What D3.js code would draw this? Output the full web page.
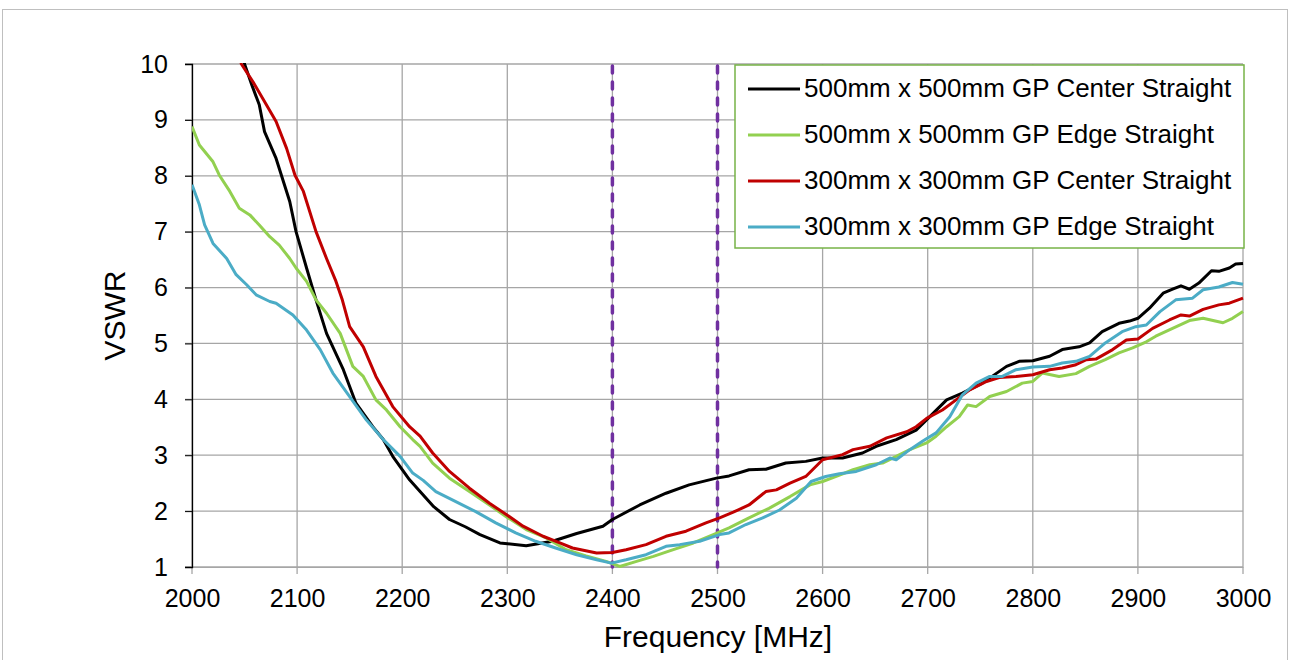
<!DOCTYPE html>
<html><head><meta charset="utf-8">
<script src="https://cdn.jsdelivr.net/npm/d3@7"></script>
<style>body{margin:0;background:#fff;font-family:"Liberation Sans",Arial,sans-serif}</style>
</head><body>
<svg id="c" width="1290" height="660"></svg>
<script>
const seriesNames = ["500mm x 500mm GP Center Straight","500mm x 500mm GP Edge Straight","300mm x 300mm GP Center Straight","300mm x 300mm GP Edge Straight"];
const seriesColors = ["#000000","#92d050","#c00000","#4bacc6"];
const xTicks = [2000,2100,2200,2300,2400,2500,2600,2700,2800,2900,3000];
const yTicks = [1,2,3,4,5,6,7,8,9,10];
const bandEdges = [2400,2500];

const black = [[2045,10.6],[2050,10],[2057,9.62],[2064,9.27],[2069,8.79],[2080,8.31],[2093,7.54],[2099,7.0],[2109,6.35],[2118,5.78],[2128,5.18],[2144,4.53],[2156,3.93],[2172,3.51],[2182,3.28],[2191,2.98],[2207,2.56],[2217,2.35],[2230,2.08],[2245,1.85],[2260,1.72],[2274,1.58],[2293,1.43],[2318,1.38],[2343,1.46],[2366,1.60],[2391,1.73],[2400,1.85],[2426,2.11],[2451,2.32],[2473,2.47],[2499,2.59],[2511,2.63],[2530,2.74],[2546,2.75],[2565,2.86],[2584,2.89],[2600,2.95],[2619,2.95],[2638,3.04],[2651,3.16],[2670,3.28],[2689,3.45],[2702,3.69],[2718,3.99],[2733,4.11],[2752,4.29],[2775,4.59],[2787,4.68],[2800,4.69],[2816,4.77],[2828,4.89],[2844,4.94],[2854,5.01],[2866,5.21],[2882,5.36],[2892,5.40],[2900,5.45],[2911,5.63],[2924,5.90],[2933,5.97],[2941,6.03],[2949,5.97],[2958,6.08],[2970,6.30],[2977,6.29],[2987,6.35],[2993,6.42],[3000,6.43]];
const green = [[2000,8.88],[2007,8.55],[2020,8.25],[2026,8.01],[2036,7.72],[2045,7.42],[2055,7.30],[2064,7.12],[2074,6.91],[2083,6.76],[2093,6.52],[2099,6.35],[2109,6.11],[2118,5.78],[2128,5.54],[2141,5.18],[2153,4.59],[2163,4.41],[2175,3.99],[2185,3.81],[2198,3.51],[2210,3.28],[2217,3.16],[2229,2.86],[2245,2.59],[2264,2.35],[2283,2.11],[2299,1.90],[2318,1.67],[2337,1.52],[2356,1.31],[2375,1.20],[2394,1.10],[2407,1.01],[2423,1.10],[2439,1.19],[2458,1.31],[2477,1.43],[2496,1.58],[2511,1.70],[2530,1.88],[2549,2.05],[2569,2.26],[2588,2.47],[2600,2.53],[2613,2.62],[2629,2.74],[2645,2.83],[2657,2.86],[2670,2.98],[2683,3.10],[2699,3.22],[2708,3.34],[2718,3.51],[2730,3.69],[2738,3.90],[2746,3.87],[2759,4.05],[2775,4.14],[2790,4.29],[2800,4.32],[2809,4.47],[2825,4.41],[2841,4.46],[2854,4.59],[2869,4.71],[2882,4.83],[2895,4.92],[2908,5.03],[2917,5.13],[2933,5.27],[2949,5.41],[2962,5.45],[2981,5.37],[2990,5.45],[3000,5.57]];
const red = [[2040,10.5],[2047,10],[2058,9.68],[2068,9.36],[2080,8.97],[2090,8.49],[2098,8.01],[2106,7.72],[2118,7.0],[2128,6.52],[2137,6.11],[2143,5.78],[2150,5.30],[2163,4.94],[2175,4.41],[2191,3.87],[2207,3.51],[2217,3.34],[2229,3.04],[2245,2.71],[2264,2.41],[2283,2.14],[2299,1.94],[2315,1.73],[2334,1.55],[2350,1.43],[2362,1.34],[2385,1.25],[2400,1.26],[2413,1.31],[2432,1.40],[2451,1.55],[2470,1.64],[2489,1.79],[2502,1.88],[2515,1.98],[2530,2.11],[2546,2.35],[2556,2.38],[2569,2.50],[2584,2.62],[2600,2.92],[2619,3.01],[2629,3.10],[2645,3.16],[2661,3.31],[2680,3.42],[2689,3.51],[2699,3.66],[2714,3.81],[2727,3.99],[2740,4.17],[2756,4.32],[2768,4.39],[2784,4.41],[2800,4.44],[2816,4.53],[2828,4.56],[2841,4.62],[2851,4.71],[2860,4.72],[2876,4.89],[2889,5.06],[2900,5.08],[2914,5.27],[2930,5.42],[2941,5.51],[2949,5.49],[2962,5.61],[2977,5.69],[2987,5.72],[3000,5.81]];
const blue = [[2000,7.84],[2007,7.48],[2012,7.12],[2020,6.79],[2033,6.52],[2042,6.23],[2052,6.05],[2061,5.87],[2074,5.75],[2080,5.72],[2096,5.51],[2109,5.24],[2122,4.89],[2134,4.47],[2150,4.05],[2166,3.63],[2182,3.28],[2198,2.98],[2210,2.68],[2220,2.55],[2232,2.35],[2251,2.17],[2270,1.99],[2289,1.79],[2308,1.61],[2327,1.46],[2346,1.34],[2366,1.22],[2385,1.13],[2399,1.07],[2413,1.13],[2432,1.22],[2451,1.37],[2464,1.40],[2483,1.46],[2502,1.58],[2511,1.61],[2527,1.76],[2543,1.88],[2559,2.02],[2575,2.23],[2589,2.53],[2603,2.62],[2616,2.67],[2632,2.71],[2651,2.83],[2664,2.95],[2670,2.92],[2683,3.10],[2695,3.25],[2708,3.40],[2721,3.69],[2733,4.08],[2746,4.29],[2759,4.41],[2771,4.41],[2784,4.53],[2800,4.58],[2816,4.59],[2828,4.65],[2841,4.68],[2854,4.77],[2869,5.01],[2885,5.21],[2898,5.30],[2908,5.33],[2921,5.57],[2936,5.78],[2952,5.81],[2962,5.96],[2977,6.01],[2990,6.09],[3000,6.06]];
const seriesData = [black, green, red, blue];

const svg = d3.select("#c");
const L = 192, R = 1243, T = 64, B = 567;
const FONT = "Liberation Sans, Arial, sans-serif";
const x = d3.scaleLinear().domain([2000,3000]).range([L,R]);
const y = d3.scaleLinear().domain([1,10]).range([B,T]);

// outer frame
svg.append("rect").attr("x",2.5).attr("y",9.5).attr("width",1285).attr("height",660).attr("fill","none").attr("stroke","#bfbfbf").attr("stroke-width",1);

// grid
const g = svg.append("g");
g.selectAll(".gx").data(xTicks).join("line").attr("x1",d=>x(d)).attr("x2",d=>x(d)).attr("y1",T).attr("y2",B+7).attr("stroke","#a6a6a6").attr("stroke-width",1.3);
g.selectAll(".gy").data(yTicks).join("line").attr("x1",L-7).attr("x2",R).attr("y1",d=>y(d)).attr("y2",d=>y(d)).attr("stroke","#a6a6a6").attr("stroke-width",1.3);

// axes via d3
const xAxis = svg.append("g").attr("transform",`translate(0,${B})`).call(d3.axisBottom(x).tickValues(xTicks).tickSize(0).tickPadding(22).tickFormat(d3.format("d")));
xAxis.select(".domain").attr("stroke","#a6a6a6");
xAxis.selectAll("text").attr("font-size",25).attr("font-family",FONT).attr("fill","#000");
const yAxis = svg.append("g").attr("transform",`translate(${L},0)`).call(d3.axisLeft(y).tickValues(yTicks).tickSize(7).tickPadding(17).tickFormat(d3.format("d")));
yAxis.select(".domain").attr("stroke","#000").attr("stroke-width",1.3);
yAxis.selectAll(".tick line").attr("stroke","#000");
yAxis.selectAll("text").attr("font-size",25).attr("font-family",FONT).attr("fill","#000");

// band lines
svg.selectAll(".band").data(bandEdges).join("line").attr("x1",d=>x(d)).attr("x2",d=>x(d)).attr("y1",T+2).attr("y2",B)
  .attr("stroke","#7030a0").attr("stroke-width",3.5).attr("stroke-linecap","round").attr("stroke-dasharray","7,9");

// clip
svg.append("clipPath").attr("id","clip").append("rect").attr("x",L).attr("y",T-1).attr("width",R-L+3).attr("height",B-T+2);
const line = d3.line().x(d=>x(d[0])).y(d=>y(d[1]));
svg.append("g").attr("clip-path","url(#clip)").selectAll("path").data(seriesData).join("path")
  .attr("d",line).attr("fill","none").attr("stroke",(d,i)=>seriesColors[i]).attr("stroke-width",3).attr("stroke-linejoin","round");

// axis titles
svg.append("text").attr("x",718).attr("y",647).attr("text-anchor","middle").attr("font-size",30).attr("font-family",FONT).attr("fill","#000").text("Frequency [MHz]");
svg.append("text").attr("transform",`translate(125,${(T+B)/2}) rotate(-90)`).attr("text-anchor","middle").attr("font-size",30).attr("font-family",FONT).attr("fill","#000").text("VSWR");

// legend
const lg = svg.append("g");
lg.append("rect").attr("x",735).attr("y",65).attr("width",509).attr("height",183).attr("fill","#fff").attr("stroke","#77b347").attr("stroke-width",1.5);
seriesNames.forEach((n,i)=>{
  const yy = 89 + i*46;
  lg.append("line").attr("x1",748).attr("x2",800).attr("y1",yy).attr("y2",yy).attr("stroke",seriesColors[i]).attr("stroke-width",3);
  lg.append("text").attr("x",804).attr("y",yy+8).attr("font-size",26).attr("font-family",FONT).attr("fill","#000").text(n);
});
</script>
</body></html>
